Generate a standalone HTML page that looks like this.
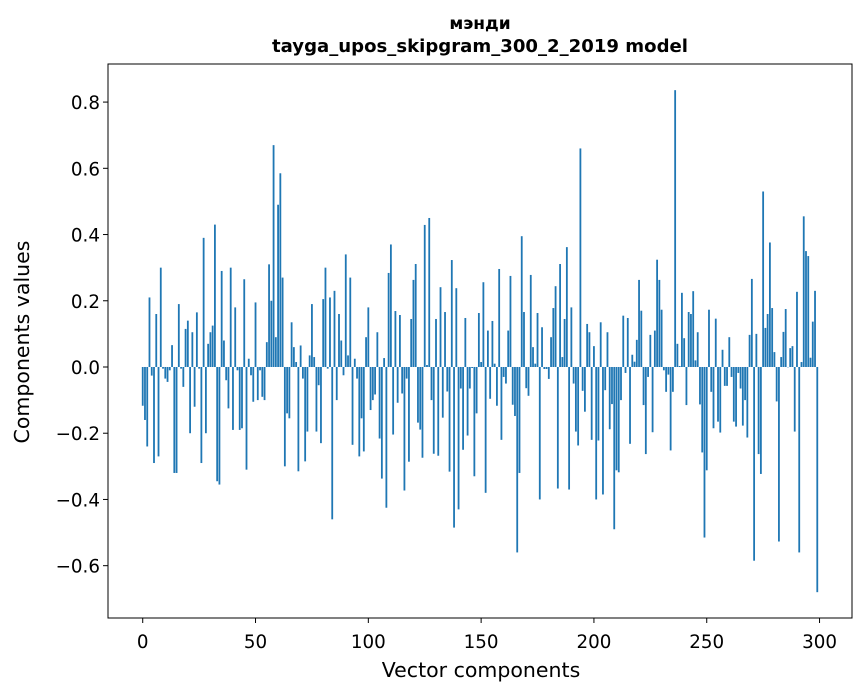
<!DOCTYPE html>
<html><head><meta charset="utf-8"><style>
html,body{margin:0;padding:0;background:#fff}
svg{display:block;font-family:"DejaVu Sans","Liberation Sans","Noto Sans CJK JP",sans-serif}
</style></head><body>
<svg id="chart" width="867" height="696" viewBox="0 0 867 696">
<rect width="867" height="696" fill="#fff"/>
<text x="480" y="29" text-anchor="middle" font-size="17" font-weight="bold">мэнди</text>
<text x="480" y="52" text-anchor="middle" font-size="17.5" font-weight="bold" textLength="416" lengthAdjust="spacingAndGlyphs">tayga_upos_skipgram_300_2_2019 model</text>
<g id="bars"></g>
<g id="xticks"></g>
<g id="yticks"></g>
<rect x="108" y="64" width="744" height="554" fill="none" stroke="#000" stroke-width="1"/>
<text x="481" y="677" text-anchor="middle" font-size="20.5">Vector components</text>
<text transform="translate(29,342) rotate(-90)" text-anchor="middle" font-size="20.5">Components values</text>
</svg>
<script>
const values = [
-0.117,-0.16,-0.24,0.21,-0.026,-0.29,0.16,-0.27,0.30,-0.005,-0.035,-0.045,-0.01,0.066,-0.32,-0.32,0.19,-0.005,-0.06,0.115,
0.14,-0.2,0.105,-0.12,0.165,-0.005,-0.29,0.39,-0.2,0.07,0.105,0.125,0.43,-0.345,-0.355,0.29,0.08,-0.04,-0.125,0.30,
-0.19,0.18,-0.01,-0.19,-0.185,0.265,-0.31,0.025,-0.025,-0.105,0.195,
-0.1,-0.01,-0.09,-0.1,0.075,0.31,0.2,0.67,0.09,0.49,0.585,0.27,-0.3,-0.14,-0.155,0.135,0.06,0.015,-0.315,
0.065,-0.035,-0.285,-0.195,0.035,0.19,0.03,-0.195,-0.055,-0.23,0.205,0.30,-0.005,0.21,-0.46,0.23,-0.1,0.16,0.08,-0.025,
0.34,0.035,0.27,-0.235,0.025,-0.035,-0.27,-0.155,-0.255,0.09,0.18,
-0.13,-0.1,-0.083,0.105,-0.216,-0.337,0.027,-0.425,0.284,0.37,-0.204,0.169,-0.108,0.157,-0.08,-0.373,-0.035,-0.286,0.145,
0.263,0.311,-0.168,-0.189,-0.274,0.429,0.006,0.45,-0.1,-0.262,0.145,-0.268,0.241,-0.153,0.166,-0.074,-0.316,0.323,-0.485,0.238,
-0.43,-0.065,-0.25,0.148,-0.207,-0.065,-0.003,-0.33,-0.14,0.163,0.015,0.256,
-0.38,0.11,-0.096,0.139,0.01,-0.117,0.296,-0.22,-0.03,-0.05,0.11,0.275,-0.114,-0.148,-0.56,-0.32,0.395,0.166,-0.064,-0.087,
0.278,0.06,0.01,0.163,-0.4,0.12,-0.006,-0.006,-0.036,0.09,0.178,0.244,-0.367,0.311,0.03,0.145,0.362,-0.37,0.18,-0.05,
-0.195,-0.237,0.66,-0.072,-0.135,0.13,0.105,-0.22,0.063,-0.4,-0.222,
0.135,-0.385,-0.07,0.105,-0.188,-0.112,-0.49,-0.312,-0.318,-0.1,0.155,-0.018,0.148,-0.232,0.037,0.016,0.082,0.263,0.17,-0.115,
-0.263,-0.03,0.097,-0.197,0.11,0.324,0.263,0.173,-0.01,-0.075,-0.023,-0.252,-0.075,0.836,0.07,0.003,0.224,0.087,-0.115,0.166,
0.16,0.229,0.02,0.105,-0.113,-0.258,-0.515,-0.312,0.173,-0.075,-0.185,
0.146,-0.165,-0.198,0.052,-0.057,-0.057,0.09,-0.03,-0.165,-0.18,-0.018,-0.065,-0.177,-0.1,-0.213,0.097,0.266,-0.585,0.1,-0.263,
-0.323,0.53,0.118,0.16,0.376,0.178,0.045,-0.104,-0.527,0.03,0.106,0.175,0.0,0.057,0.063,-0.195,0.227,-0.56,0.015,0.455,
0.35,0.335,0.028,0.137,0.23,-0.68
];
const xTickValues = [0,50,100,150,200,250,300];
const yTickValues = [-0.6,-0.4,-0.2,0.0,0.2,0.4,0.6,0.8];
const yTickLabels = ["\u22120.6","\u22120.4","\u22120.2","0.0","0.2","0.4","0.6","0.8"];

const NS="http://www.w3.org/2000/svg";
const L=108,R=852,T=64,B=618;
const xmin=-0.4-0.05*(values.length-1+0.8), xmax=values.length-1+0.4+0.05*(values.length-1+0.8);
const ymin=-0.758, ymax=0.915;
const xs=v=>L+(v-xmin)/(xmax-xmin)*(R-L);
const ys=v=>B-(v-ymin)/(ymax-ymin)*(B-T);
const bars=document.getElementById('bars');
values.forEach((v,i)=>{
  const r=document.createElementNS(NS,'rect');
  const x0=xs(i-0.4),x1=xs(i+0.4);
  const y0=ys(Math.max(v,0)),y1=ys(Math.min(v,0));
  r.setAttribute('x',x0);r.setAttribute('width',x1-x0);
  r.setAttribute('y',y0);r.setAttribute('height',Math.max(y1-y0,0.3));
  r.setAttribute('fill','#1f77b4');
  
  
  bars.appendChild(r);
});
const xg=document.getElementById('xticks');
xTickValues.forEach(t=>{
  const x=xs(t);
  const l=document.createElementNS(NS,'line');
  l.setAttribute('x1',x);l.setAttribute('x2',x);l.setAttribute('y1',B);l.setAttribute('y2',B+5);
  l.setAttribute('stroke','#000');
  
  
  xg.appendChild(l);
  const tx=document.createElementNS(NS,'text');
  tx.setAttribute('x',x);tx.setAttribute('y',B+30);tx.setAttribute('text-anchor','middle');tx.setAttribute('font-size','18.3');
  tx.textContent=String(t);
  
  
  xg.appendChild(tx);
});
const yg=document.getElementById('yticks');
yTickValues.forEach((t,k)=>{
  const y=ys(t);
  const l=document.createElementNS(NS,'line');
  l.setAttribute('x1',L-5);l.setAttribute('x2',L);l.setAttribute('y1',y);l.setAttribute('y2',y);
  l.setAttribute('stroke','#000');
  
  
  yg.appendChild(l);
  const tx=document.createElementNS(NS,'text');
  tx.setAttribute('x',L-8);tx.setAttribute('y',y+7);tx.setAttribute('text-anchor','end');tx.setAttribute('font-size','18.3');
  tx.textContent=yTickLabels[k];
  
  
  yg.appendChild(tx);
});
</script>
</body></html>
